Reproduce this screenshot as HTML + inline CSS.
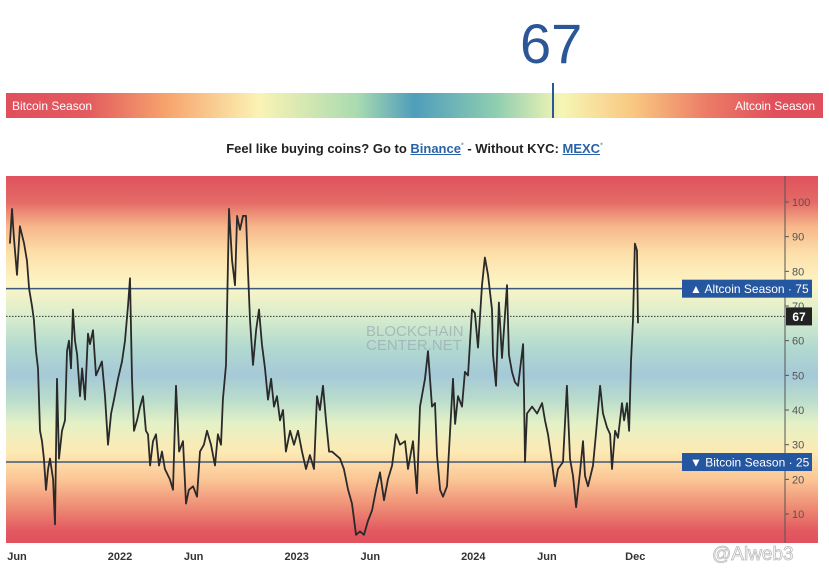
<!DOCTYPE html>
<html><head><meta charset="utf-8"><style>
body{margin:0;width:829px;height:573px;background:#fff;font-family:"Liberation Sans",sans-serif;overflow:hidden;position:relative}
.abs{position:absolute}
#score{left:520px;top:14px;font-size:56px;color:#2b5797;line-height:60px}
#bar{left:6px;top:93px;width:817px;height:25px;background:linear-gradient(to right,#e0505c 0%,#e35b5e 10%,#f7a66e 20%,#fbf3b4 31%,#a9dbb0 43%,#4f9dbc 50%,#8fceb0 60%,#f6f6b4 68%,#f9c680 77%,#ec7a66 86%,#e0505c 94%,#e0505c 100%)}
#bar span{position:absolute;top:6px;font-size:12px;color:#fff}
#marker{left:552px;top:83px;width:2px;height:35px;background:#2b5797}
#promo{left:0;top:141px;width:829px;text-align:center;font-size:13px;font-weight:bold;color:#222}
#promo a{color:#2a62a8;text-decoration:underline}
#promo sup{font-size:7px;color:#7ab}
</style></head><body>
<div id="score" class="abs">67</div>
<div id="bar" class="abs">
<span style="left:6px">Bitcoin Season</span>
<span style="right:8px">Altcoin Season</span>
</div>
<div id="marker" class="abs"></div>
<div id="promo" class="abs">Feel like buying coins? Go to <a>Binance</a><sup>*</sup> - Without KYC: <a>MEXC</a><sup>*</sup></div>
<svg id="chart" class="abs" style="left:0;top:0" width="829" height="573">
<defs><linearGradient id="bg" x1="0" y1="176" x2="0" y2="543" gradientUnits="userSpaceOnUse"></linearGradient></defs>
</svg>
<script>
const months=[-0.48,-0.34,-0.2,0,0.2,0.48,0.68,0.82,1.02,1.15,1.29,1.43,1.56,1.7,1.83,1.97,2.11,2.24,2.45,2.58,2.72,2.85,3.06,3.26,3.4,3.53,3.67,3.8,3.94,4.08,4.28,4.42,4.62,4.82,4.96,5.16,5.37,5.57,5.77,5.98,6.18,6.39,6.59,6.86,7.13,7.34,7.54,7.68,7.81,7.95,8.15,8.36,8.56,8.76,8.9,9.04,9.24,9.44,9.65,9.85,10.05,10.39,10.6,10.8,11.01,11.28,11.48,11.68,11.96,12.23,12.43,12.7,12.91,13.18,13.45,13.65,13.86,13.99,14.2,14.4,14.61,14.81,14.95,15.15,15.35,15.56,15.69,15.83,16.03,16.24,16.44,16.64,16.85,17.05,17.26,17.46,17.66,17.87,18.07,18.27,18.55,18.82,19.09,19.36,19.63,19.9,20.18,20.38,20.58,20.79,20.99,21.2,21.4,21.67,21.94,22.21,22.49,22.76,23.03,23.3,23.57,23.84,24.12,24.39,24.66,24.93,25.2,25.48,25.75,26.02,26.36,26.56,26.9,27.17,27.38,27.72,27.92,28.19,28.4,28.53,28.74,28.94,29.21,29.42,29.62,29.76,29.96,30.23,30.43,30.64,30.91,31.11,31.32,31.59,31.79,32,32.27,32.34,32.54,32.74,32.95,33.08,33.29,33.42,33.63,33.83,34.04,34.38,34.44,34.51,34.65,34.99,35.33,35.67,35.87,36.07,36.34,36.55,36.75,37.09,37.36,37.57,37.77,37.98,38.25,38.45,38.59,38.79,39.13,39.33,39.61,39.81,40.08,40.29,40.42,40.63,40.83,41.1,41.24,41.44,41.58,41.71,41.85,41.98,42.12,42.19];
const values=[88,98,89,79,93,88,83,75,70,66,57,52,34,31,26,17,23,26,20,7,49,26,34,37,57,60,52,69,60,56,44,52,43,62,59,63,50,52,54,44,30,39,43,49,54,60,70,78,49,34,37,41,44,34,33,24,31,33,24,28,23,20,17,47,28,31,13,17,18,15,28,30,34,30,24,33,30,43,53,98,83,76,96,92,96,96,80,66,53,63,69,59,52,43,49,41,44,37,40,28,34,30,34,28,23,27,23,44,40,47,37,28,28,27,26,23,17,13,4,5,4,8,11,17,22,14,20,24,33,30,31,23,31,16,41,49,57,41,42,27,17,15,18,34,49,36,44,41,51,50,69,68,58,76,84,79,69,56,47,71,55,63,76,56,51,48,47,59,45,25,39,41,39,42,37,33,25,18,23,25,47,26,21,12,22,31,21,18,24,33,47,39,35,33,23,34,32,42,37,42,34,54,66,88,86,65];
const yTicks=[10,20,30,40,50,60,70,80,90,100];
const xTickMonths=[0,7,12,19,24,31,36,42];
const xTickLabels=["Jun","2022","Jun","2023","Jun","2024","Jun","Dec"];
const thresholds=[75,25];
const current=67;
const NS="http://www.w3.org/2000/svg";
const svg=document.getElementById('chart');
const L=6,R=818,T=176,B=543,AX=785;
const y=v=>202+(100-v)*3.467;
const x=m=>17+m*14.72;
function mk(tag,attrs,parent){const e=document.createElementNS(NS,tag);for(const k in attrs)e.setAttribute(k,attrs[k]);(parent||svg).appendChild(e);return e;}
const g=svg.querySelector('#bg');
const stops=[[107.5,'#e0525e'],[100,'#e46a66'],[93,'#f6b68a'],[85,'#fde0aa'],[76,'#fdf5c6'],[67,'#d9edcc'],[58,'#b2d9d0'],[50,'#a5c9d7'],[43,'#b9dccd'],[36,'#e4f1c6'],[28,'#fdeab4'],[20,'#fbc696'],[12,'#ee8c74'],[5,'#e25860'],[1.6,'#e0525e']];
stops.forEach(s=>mk('stop',{offset:((y(s[0])-T)/(B-T)).toFixed(4),'stop-color':s[1]},g));
const bgr=mk('rect',{x:L,y:T,width:R-L,height:B-T,fill:'url(#bg)'});


const wm=mk('text',{x:366,y:336,'font-size':15,fill:'#9aaab0','font-family':'Liberation Sans, sans-serif','opacity':0.7});
wm.textContent='BLOCKCHAIN';


const wm2=mk('text',{x:366,y:350,'font-size':15,fill:'#9aaab0','font-family':'Liberation Sans, sans-serif','opacity':0.7});
wm2.textContent='CENTER.NET';


const axl=mk('line',{x1:AX,y1:T,x2:AX,y2:B,stroke:'#555','stroke-width':1});


yTicks.forEach(v=>{
 mk('line',{x1:AX,y1:y(v),x2:AX+4,y2:y(v),stroke:'#555'});
 const t=mk('text',{x:792,y:y(v)+4,'font-size':11,fill:'#555'});
 t.textContent=v;
 
 
});
xTickMonths.forEach((m,i)=>{
 const t=mk('text',{x:x(m),y:560,'font-size':11,fill:'#333','font-weight':'bold','text-anchor':'middle'});
 t.textContent=xTickLabels[i];
 
 
});
thresholds.forEach((v,i)=>{
 const l=mk('line',{x1:L,y1:y(v),x2:682,y2:y(v),stroke:'#3c5a7e','stroke-width':1.5});
 
 
});
const cl=mk('line',{x1:L,y1:y(current),x2:AX,y2:y(current),stroke:'#333','stroke-width':1,'stroke-dasharray':'1.5,1.5'});


const d=months.map((m,i)=>(i?'L':'M')+x(m).toFixed(1)+','+y(values[i]).toFixed(1)).join('');
const p=mk('path',{d:d,fill:'none',stroke:'#2a2a2a','stroke-width':1.8,'stroke-linejoin':'round'});


thresholds.forEach((v,i)=>{
 const r=mk('rect',{x:682,y:y(v)-9,width:130,height:18,fill:'#2556a0'});
 
 
 const t=mk('text',{x:690,y:y(v)+4.5,'font-size':12,fill:'#fff'});
 t.textContent=(i==0?'\u25B2 Altcoin Season':'\u25BC Bitcoin Season')+' \u00B7 '+v;
 
 
});
const cb=mk('rect',{x:786,y:y(current)-9,width:26,height:18,fill:'#222'});


const ct=mk('text',{x:799,y:y(current)+4.5,'font-size':12,fill:'#fff','font-weight':'bold','text-anchor':'middle'});
ct.textContent=current;


const aw=mk('text',{x:712,y:560,'font-size':19,fill:'#fff',stroke:'#bbb','stroke-width':0.8});
aw.textContent='@Alweb3';


</script>
</body></html>
